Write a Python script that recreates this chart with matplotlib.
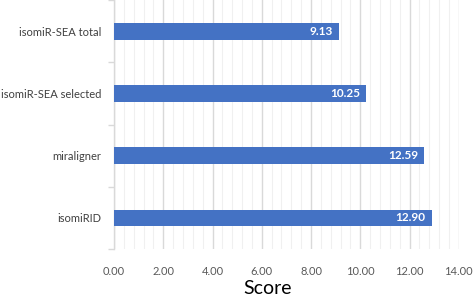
import matplotlib
matplotlib.use("Agg")
import matplotlib.pyplot as plt
import numpy as np

categories = ["isomiRID", "miraligner", "isomiR-SEA selected", "isomiR-SEA total"]
scores = [12.90, 12.59, 10.25, 9.13]
xticks = [0, 2, 4, 6, 8, 10, 12, 14]

plt.rcParams['font.family'] = ['Lato', 'DejaVu Sans']

fig = plt.figure(figsize=(4.73, 2.98), dpi=100)
ax = fig.add_axes([0.241, 0.164, 0.729, 0.836])

y = np.arange(len(categories))
bars = ax.barh(y, scores, height=0.27, color="#4472C4", zorder=3)

ax.set_xlim(0, 14)
ax.set_ylim(-0.5, len(categories) - 0.5)

ax.set_xticks(xticks)
ax.set_xticklabels([f"{v:.2f}" for v in xticks], fontsize=8, color="#595959")
ax.set_xticks(np.arange(0, 14.01, 0.4), minor=True)
ax.tick_params(axis='x', which='both', length=0, pad=12)
ax.grid(axis='x', which='major', color="#d9d9d9", linewidth=1.0, zorder=0)
ax.grid(axis='x', which='minor', color="#f0f0f0", linewidth=0.8, zorder=0)

ax.set_yticks(y)
ax.set_yticklabels(categories, fontsize=8, color="#404040")
ax.set_yticks(np.arange(-0.5, len(categories), 1.0), minor=True)
ax.tick_params(axis='y', which='major', length=0, pad=9)
ax.tick_params(axis='y', which='minor', length=4, color="#d9d9d9", width=1)

for s in ["top", "right", "bottom"]:
    ax.spines[s].set_visible(False)
ax.spines["left"].set_color("#d9d9d9")
ax.spines["left"].set_linewidth(1.0)

for yi, v in zip(y, scores):
    ax.text(v - 0.25, yi, f"{v:.2f}", ha="right", va="center", color="white",
            fontsize=8.5, fontweight="bold", zorder=4)

ax.set_xlabel("Score", fontsize=14, color="black")
ax.xaxis.set_label_coords(0.446, -0.125)

fig.savefig("out.png", dpi=100)
